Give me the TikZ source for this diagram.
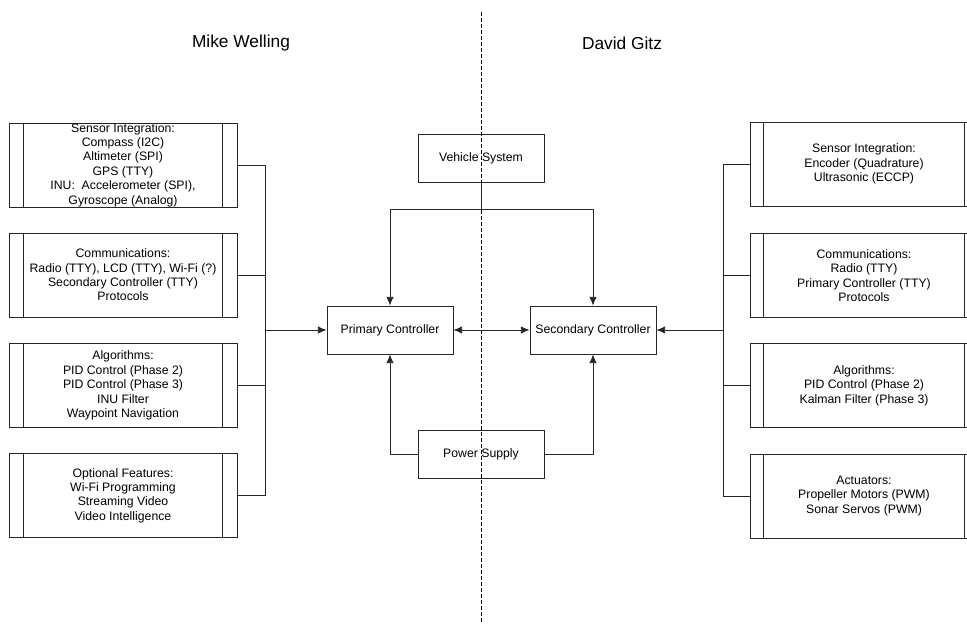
\documentclass[tikz,border=0pt]{standalone}
\usepackage{fontspec}
\setmainfont{Liberation Sans}
\usetikzlibrary{arrows.meta}
\begin{document}
\begin{tikzpicture}[x=0.75pt,y=-0.75pt,
  every node/.style={font=\fontsize{9.2}{10.8}\selectfont},
  ln/.style={line width=0.6pt,draw=black!85},
  arr/.style={ln,-{Latex[length=6.5pt,width=5.5pt]}},
  darr/.style={ln,{Latex[length=6.5pt,width=5.5pt]}-{Latex[length=6.5pt,width=5.5pt]}},
  sidebox/.style={draw=black!85,line width=0.6pt,minimum width=171pt,minimum height=63pt,inner sep=0pt},
  ctrl/.style={draw=black!85,line width=0.6pt,minimum width=94.5pt,minimum height=36pt,inner sep=0pt},
  txt/.style={align=center,inner sep=0pt},
  title/.style={font=\fontsize{13}{15}\selectfont}]
\clip (0,0) rectangle (967,630);
\useasboundingbox (0,0) rectangle (967,630);
% divider
\coordinate (dt) at (481,12);
\coordinate (db) at (481,622);
\draw[dashed,line width=0.6pt,dash pattern=on 3pt off 1.5pt] (dt) -- (db);
% titles
\node[title] (mw) at (241,43) {Mike Welling};
\node[title] (dg) at (622,43) {David Gitz};
% central nodes
\node[ctrl] (veh) at (481,158) {Vehicle System};
\node[ctrl] (prim) at (390,330) {Primary Controller};
\node[ctrl] (sec) at (593,330) {Secondary Controller};
\node[ctrl] (pow) at (481,454) {Power Supply};
% left boxes
\foreach \n/\y in {l1/165,l2/275,l3/385.5,l4/495.5}{
  \node[sidebox] (\n) at (123,\y) {};
  \draw[ln] ([xshift=10.9pt]\n.north west) -- ([xshift=10.9pt]\n.south west);
  \draw[ln] ([xshift=-11.2pt]\n.north east) -- ([xshift=-11.2pt]\n.south east);
}
\foreach \n/\y in {r1/164,r2/275.5,r3/385.5,r4/496}{
  \node[sidebox] (\n) at (864,\y) {};
  \draw[ln] ([xshift=10.5pt]\n.north west) -- ([xshift=10.5pt]\n.south west);
  \draw[ln] ([xshift=-10.5pt]\n.north east) -- ([xshift=-10.5pt]\n.south east);
}
\node[txt] (l1t) at (l1) {Sensor Integration:\\Compass (I2C)\\Altimeter (SPI)\\GPS (TTY)\\INU:\ \ Accelerometer (SPI),\\Gyroscope (Analog)};
\node[txt] (l2t) at (l2) {Communications:\\Radio (TTY), LCD (TTY), Wi-Fi (?)\\Secondary Controller (TTY)\\Protocols};
\node[txt] (l3t) at (l3) {Algorithms:\\PID Control (Phase 2)\\PID Control (Phase 3)\\INU Filter\\Waypoint Navigation};
\node[txt] (l4t) at (l4) {Optional Features:\\Wi-Fi Programming\\Streaming Video\\Video Intelligence};
\node[txt] (r1t) at (r1) {Sensor Integration:\\Encoder (Quadrature)\\Ultrasonic (ECCP)};
\node[txt] (r2t) at (r2) {Communications:\\Radio (TTY)\\Primary Controller (TTY)\\Protocols};
\node[txt] (r3t) at (r3) {Algorithms:\\PID Control (Phase 2)\\Kalman Filter (Phase 3)};
\node[txt] (r4t) at (r4) {Actuators:\\Propeller Motors (PWM)\\Sonar Servos (PWM)};
% left bus
\coordinate (lb) at (265,0);
\foreach \n in {l1,l2,l3,l4}{\draw[ln] (\n.east) -- (\n.east -| lb);}
\draw[ln] (l1.east -| lb) -- (l4.east -| lb);
\draw[arr] (prim.west -| lb) -- (prim.west);
% right bus
\coordinate (rb) at (723,0);
\foreach \n in {r1,r2,r3,r4}{\draw[ln] (\n.west) -- (\n.west -| rb);}
\draw[ln] (r1.west -| rb) -- (r4.west -| rb);
\draw[arr] (sec.east -| rb) -- (sec.east);
% controllers link
\draw[darr] (prim.east) -- (sec.west);
% vehicle
\coordinate (vj) at (481,209);
\draw[ln] (veh.south) -- (vj);
\draw[arr] (vj) -| (prim.north);
\draw[arr] (vj) -| (sec.north);
% power
\draw[arr] (pow.west) -| (prim.south);
\draw[arr] (pow.east) -| (sec.south);
\end{tikzpicture}
\end{document}
